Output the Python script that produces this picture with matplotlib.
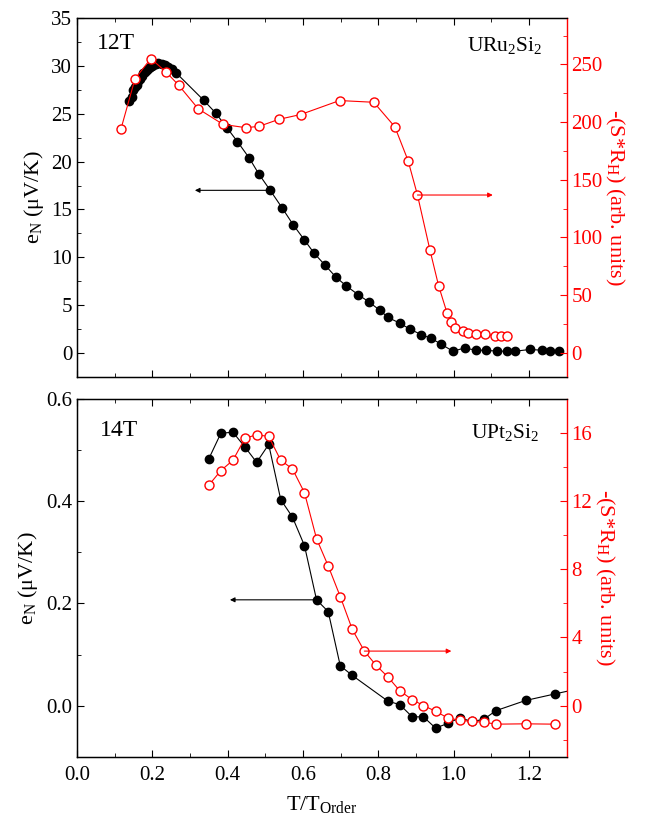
import matplotlib
matplotlib.use('Agg')
import matplotlib.pyplot as plt
from matplotlib.ticker import MultipleLocator

plt.rcParams['font.family'] = ['Liberation Serif', 'DejaVu Serif']
plt.rcParams['mathtext.fontset'] = 'custom'
plt.rcParams['mathtext.rm'] = 'Liberation Serif'
plt.rcParams['mathtext.it'] = 'Liberation Serif:italic'

# ---------------- data: URu2Si2, 12 T ----------------
uru_en_T = [0.138, 0.145, 0.149, 0.154, 0.158, 0.163, 0.167, 0.172, 0.176, 0.181, 0.185,
            0.190, 0.194, 0.198, 0.202, 0.209, 0.216, 0.225, 0.233, 0.242, 0.251, 0.263,
            0.337, 0.368, 0.399, 0.426, 0.457, 0.483, 0.513, 0.544, 0.574, 0.604, 0.630,
            0.658, 0.688, 0.715, 0.746, 0.776, 0.804, 0.826, 0.857, 0.883, 0.914, 0.941,
            0.967, 0.998, 1.029, 1.060, 1.085, 1.115, 1.141, 1.164, 1.203, 1.234, 1.256, 1.281]
uru_en = [26.3, 26.8, 27.5, 27.8, 28.0, 28.4, 28.7, 29.0, 29.3, 29.4, 29.6,
          29.8, 29.9, 30.0, 30.1, 30.2, 30.3, 30.2, 30.1, 29.9, 29.7, 29.3,
          26.4, 25.1, 23.5, 22.1, 20.4, 18.7, 17.0, 15.2, 13.4, 11.8, 10.4,
          9.2, 7.9, 7.0, 6.1, 5.3, 4.45, 3.7, 3.1, 2.5, 1.9, 1.5,
          0.9, 0.17, 0.5, 0.27, 0.27, 0.17, 0.17, 0.17, 0.35, 0.27, 0.17, 0.17]
uru_s_T = [0.117, 0.154, 0.196, 0.236, 0.270, 0.322, 0.388, 0.448, 0.483, 0.536, 0.594,
           0.697, 0.788, 0.844, 0.879, 0.904, 0.937, 0.960, 0.983, 0.994, 1.005, 1.025,
           1.038, 1.060, 1.083, 1.109, 1.127, 1.142]
uru_s = [194.4, 237.5, 255.1, 243.6, 232.0, 211.5, 198.0, 195.2, 196.3, 202.4, 206.6,
         218.7, 217.2, 195.9, 166.7, 136.8, 89.3, 58.3, 34.1, 26.9, 21.1, 18.7,
         17.3, 15.9, 15.9, 15.0, 15.0, 14.7]

# ---------------- data: UPt2Si2, 14 T ----------------
upt_en_T = [0.350, 0.382, 0.414, 0.446, 0.477, 0.509, 0.541, 0.572, 0.604, 0.636, 0.667,
            0.699, 0.731, 0.826, 0.857, 0.890, 0.920, 0.952, 0.984, 1.016, 1.049, 1.080,
            1.112, 1.191, 1.270, 1.350]
upt_en = [0.483, 0.533, 0.535, 0.506, 0.476, 0.511, 0.403, 0.369, 0.313, 0.207, 0.184,
          0.078, 0.059, 0.0085, 0.002, -0.022, -0.022, -0.044, -0.035, -0.024, -0.031, -0.027,
          -0.010, 0.010, 0.023, 0.036]
upt_s_T = [0.350, 0.382, 0.414, 0.446, 0.477, 0.509, 0.541, 0.572, 0.604, 0.636, 0.667,
           0.699, 0.731, 0.763, 0.794, 0.826, 0.857, 0.890, 0.920, 0.952, 0.984, 1.016,
           1.049, 1.080, 1.112, 1.191, 1.270]
upt_s = [12.94, 13.8, 14.4, 15.7, 15.9, 15.8, 14.4, 13.9, 12.5, 9.8, 8.2,
         6.4, 4.47, 3.2, 2.37, 1.67, 0.87, 0.35, 0.0, -0.33, -0.72, -0.86,
         -0.93, -0.97, -1.09, -1.07, -1.09]

RED = '#ff0000'
FS_TICK = 15
FS_LAB = 16

fig = plt.figure(figsize=(6.47, 8.27), dpi=100)
W, H = 647, 827
def rect(l, r, t, b):
    return [l / W, 1 - b / H, (r - l) / W, (b - t) / H]

ax1 = fig.add_axes(rect(77, 566.6, 18.3, 376.7))
ax3 = fig.add_axes(rect(77, 566.6, 399, 756.7))
ax2 = ax1.twinx()
ax4 = ax3.twinx()

def style_pair(a, b, xlab):
    a.set_xlim(0, 1.3)
    a.xaxis.set_major_locator(MultipleLocator(0.2))
    a.xaxis.set_minor_locator(MultipleLocator(0.1))
    a.tick_params(axis='x', which='both', direction='in', top=True, labelsize=FS_TICK,
                  pad=7)
    a.tick_params(axis='x', which='major', length=5)
    a.tick_params(axis='x', which='minor', length=3)
    a.tick_params(axis='y', which='both', direction='in', labelsize=FS_TICK, right=False)
    a.tick_params(axis='y', which='major', length=5)
    a.tick_params(axis='y', which='minor', length=3)
    if not xlab:
        a.tick_params(axis='x', labelbottom=False)
    b.tick_params(axis='y', which='both', direction='in', colors=RED, labelsize=FS_TICK)
    b.tick_params(axis='y', which='major', length=5)
    b.tick_params(axis='y', which='minor', length=3)
    b.spines['right'].set_color(RED)
    a.spines['right'].set_visible(False)
    for s in a.spines.values():
        s.set_linewidth(1.0)
    b.spines['right'].set_linewidth(1.0)

style_pair(ax1, ax2, False)
style_pair(ax3, ax4, True)

# ---- top panel ----
ax1.plot(uru_en_T, uru_en, '-o', color='black', lw=0.8, ms=6, mfc='black', mec='black')
ax2.plot(uru_s_T, uru_s, '-o', color=RED, lw=0.8, ms=6.5, mfc='white', mec=RED, mew=1.0)
ax1.set_ylim(-2.5, 35)
ax1.yaxis.set_major_locator(MultipleLocator(5))
ax1.yaxis.set_minor_locator(MultipleLocator(2.5))
ax2.set_ylim(-20.7, 290)
ax2.yaxis.set_major_locator(MultipleLocator(50))
ax2.yaxis.set_minor_locator(MultipleLocator(25))
ax1.set_ylabel(r'e$_\mathrm{N}$ ($\mathrm{\mu}$V/K)', fontsize=FS_LAB, labelpad=4)
ax2.set_ylabel(r'-(S*R$_\mathrm{H}$) (arb. units)', fontsize=FS_LAB, color=RED,
               rotation=270, labelpad=17)
ax1.text(0.041, 0.93, '12T', transform=ax1.transAxes, fontsize=17, va='center', ha='left')
ax1.text(0.95, 0.925, r'URu$_2$Si$_2$', transform=ax1.transAxes, fontsize=15.5,
         va='center', ha='right')
ax1.annotate('', xy=(0.313, 17.0), xytext=(0.513, 17.0),
             arrowprops=dict(arrowstyle='-|>', color='black', lw=0.8, mutation_scale=7,
                             shrinkA=0, shrinkB=0))
ax2.annotate('', xy=(1.104, 136.8), xytext=(0.904, 136.8),
             arrowprops=dict(arrowstyle='-|>', color=RED, lw=0.8, mutation_scale=7,
                             shrinkA=0, shrinkB=0))

# ---- bottom panel ----
ax3.plot(upt_en_T, upt_en, '-o', color='black', lw=0.8, ms=6, mfc='black', mec='black')
ax4.plot(upt_s_T, upt_s, '-o', color=RED, lw=0.8, ms=6.5, mfc='white', mec=RED, mew=1.0)
ax3.set_ylim(-0.1, 0.6)
ax3.yaxis.set_major_locator(MultipleLocator(0.2))
ax3.yaxis.set_minor_locator(MultipleLocator(0.1))
ax3.yaxis.set_major_formatter(matplotlib.ticker.FormatStrFormatter('%.1f'))
ax4.set_ylim(-3, 18)
ax4.yaxis.set_major_locator(MultipleLocator(4))
ax4.yaxis.set_minor_locator(MultipleLocator(2))
ax3.set_ylabel(r'e$_\mathrm{N}$ ($\mathrm{\mu}$V/K)', fontsize=FS_LAB, labelpad=4)
ax4.set_ylabel(r'-(S*R$_\mathrm{H}$) (arb. units)', fontsize=FS_LAB, color=RED,
               rotation=270, labelpad=17)
ax3.set_xlabel(r'T/T$_\mathrm{Order}$', fontsize=FS_LAB, labelpad=6)
ax3.text(0.047, 0.913, '14T', transform=ax3.transAxes, fontsize=17, va='center', ha='left')
ax3.text(0.945, 0.905, r'UPt$_2$Si$_2$', transform=ax3.transAxes, fontsize=15.5,
         va='center', ha='right')
ax3.annotate('', xy=(0.406, 0.207), xytext=(0.636, 0.207),
             arrowprops=dict(arrowstyle='-|>', color='black', lw=0.8, mutation_scale=7,
                             shrinkA=0, shrinkB=0))
ax4.annotate('', xy=(0.994, 3.2), xytext=(0.763, 3.2),
             arrowprops=dict(arrowstyle='-|>', color=RED, lw=0.8, mutation_scale=7,
                             shrinkA=0, shrinkB=0))

fig.savefig('out.png', dpi=100)
